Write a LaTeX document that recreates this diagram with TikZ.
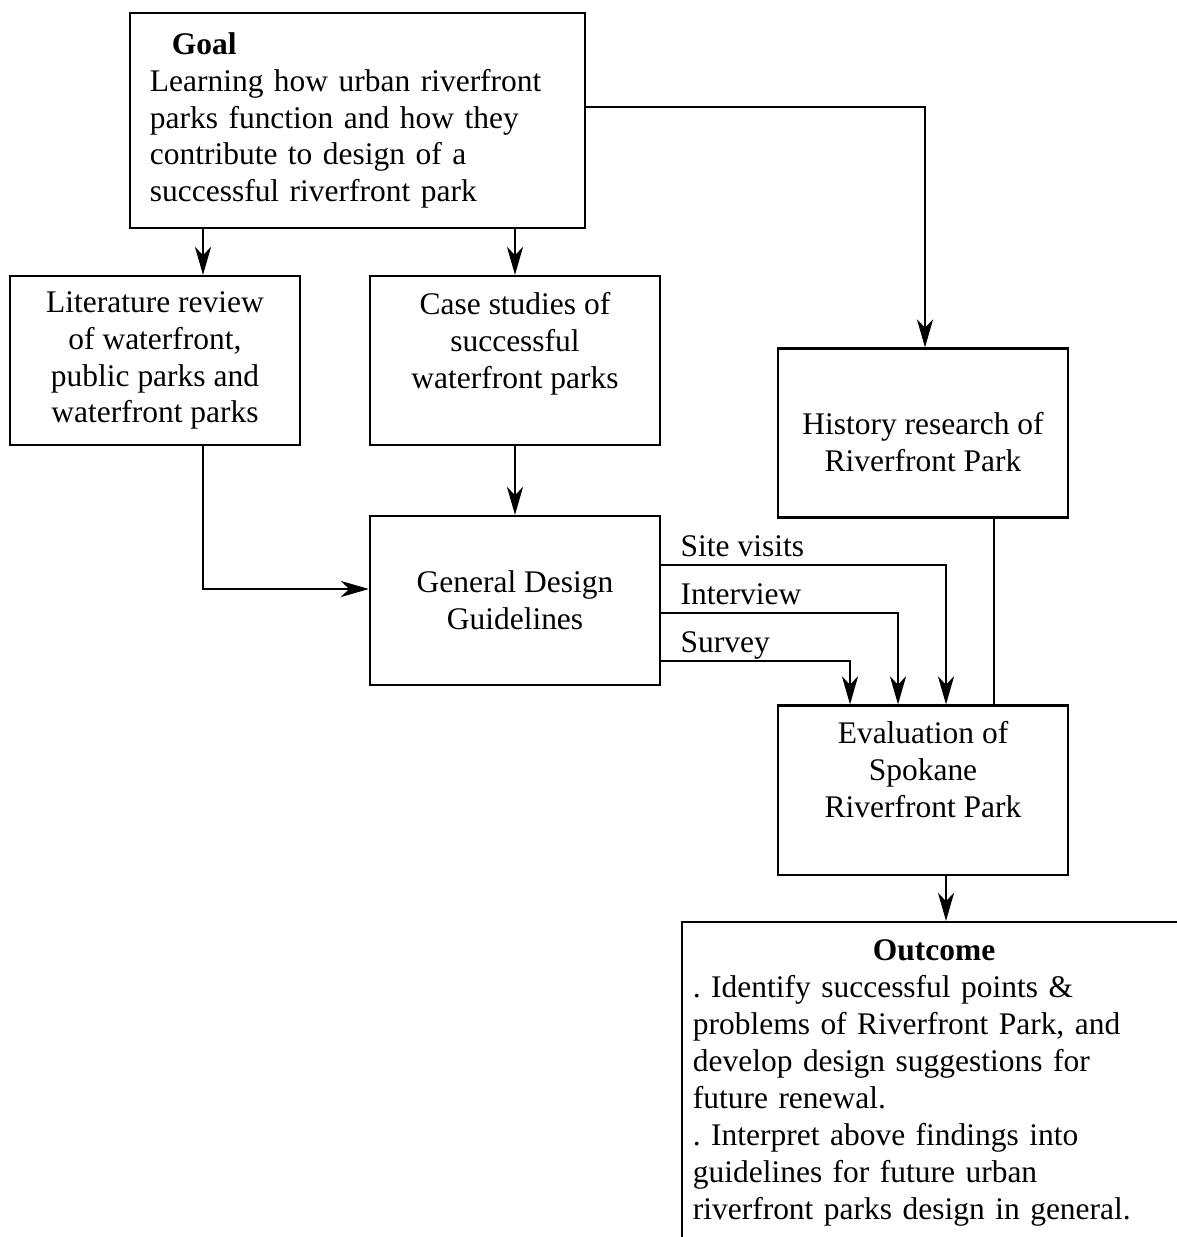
\documentclass[tikz,border=0pt]{standalone}
\usepackage{fontspec}
\setmainfont{Liberation Serif}
\usetikzlibrary{arrows.meta}
\frenchspacing
% text moved up/down inside a box without changing the box
\newcommand{\liftby}[2]{\raisebox{#1}[\height][\depth]{\begin{tabular}{@{}c@{}}#2\end{tabular}}}
\tikzset{
    box/.style = {rectangle, draw=black, line width=0.6pt, inner sep=0pt, align=center},
    wbox/.style = {box, minimum width=2.9cm, minimum height=1.69cm},
    lbl/.style = {inner sep=0pt, anchor=base west},
    link/.style = {line width=0.5pt}
}

\begin{document}
\begin{tikzpicture}
    [x=0.01cm, y=-0.01cm,
    >={Stealth[length=8pt,width=4.6pt,inset=2.4pt]},
    font=\fontsize{8.95pt}{10.5pt}\selectfont]

    \useasboundingbox (0,0) rectangle (1177,1237);
    \clip (0,0) rectangle (1177,1237);

    % boxes
    \node [box, minimum width=4.55cm, minimum height=2.15cm, text width=4.15cm, align=left]
        (goal) at (357.5,120.5)
        {\hspace*{0.22cm}\textbf{Goal}\\
         Learning how urban riverfront\\
         parks function and how they\\
         contribute to design of a\\
         successful riverfront park};
    \node [wbox] (lit) at (155,360.5)
        {Literature review\\of waterfront,\\public parks and\\waterfront parks};
    \node [wbox] (case) at (515,360.5)
        {\liftby{0.16cm}{Case studies of\\successful\\waterfront parks}};
    \node [wbox] (history) at (923,433)
        {\liftby{-0.13cm}{History research of\\Riverfront Park}};
    \node [wbox] (gdg) at (515,600.5) {General Design\\Guidelines};
    \node [wbox] (eval) at (923,790)
        {\liftby{0.17cm}{Evaluation of\\Spokane\\Riverfront Park}};
    \node [box, minimum width=5.08cm, minimum height=3.22cm, text width=4.86cm, align=left]
        (outc) at (936,1083)
        {\hspace*{1.8cm}\textbf{Outcome}\\
         . Identify successful points \&\\
         problems of Riverfront Park, and\\
         develop design suggestions for\\
         future renewal.\\
         . Interpret above findings into\\
         guidelines for future urban\\
         riverfront parks design in general.};

    % connectors
    \draw [link,->] (goal.south -| 203,0) -- (lit.north -| 203,0);
    \draw [link,->] (goal.south -| case.north) -- (case.north);
    \draw [link,->] (goal.east |- 0,107) -| (history.north -| 925,0);
    \draw [link,->] (case.south) -- (gdg.north);
    \draw [link,->] (lit.south -| 203,0) |- (gdg.west |- 0,589);

    \coordinate (site) at (gdg.east |- 0,565);
    \coordinate (intv) at (gdg.east |- 0,613);
    \coordinate (surv) at (gdg.east |- 0,661);
    \draw [link,->] (site) -| (eval.north -| 946,0);
    \draw [link,->] (intv) -| (eval.north -| 898,0);
    \draw [link,->] (surv) -| (eval.north -| 850,0);
    \node [lbl] (sitelbl) at (680,556) {Site visits};
    \node [lbl] (intvlbl) at (680,604) {Interview};
    \node [lbl] (survlbl) at (680,652) {Survey};

    \draw [link] (history.south -| 994,0) -- (eval.north -| 994,0);
    \draw [link,->] (eval.south -| 946,0) -- (outc.north -| 946,0);
\end{tikzpicture}
\end{document}
